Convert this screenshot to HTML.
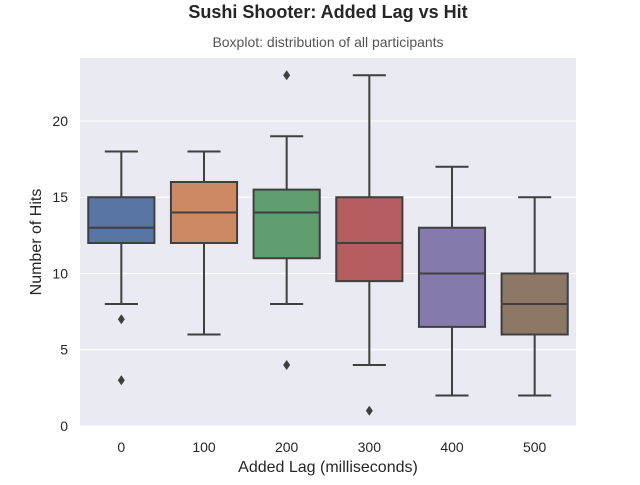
<!DOCTYPE html>
<html><head><meta charset="utf-8"><style>
body{margin:0;background:#fff;}
svg text{font-family:"Liberation Sans",Arial,sans-serif;}
</style></head><body>
<svg id="chart" width="640" height="480" xmlns="http://www.w3.org/2000/svg">
<text x="328" y="18" text-anchor="middle" font-size="18" font-weight="bold" fill="#262626">Sushi Shooter: Added Lag vs Hit</text>
<text x="328" y="47" text-anchor="middle" font-size="14" fill="#555">Boxplot: distribution of all participants</text>
<rect x="80" y="58" width="496" height="368" fill="#eaeaf2"/>
<g id="grid"></g><g id="boxes"></g><g id="ticks"></g>
<text x="328" y="472" text-anchor="middle" font-size="16" fill="#262626">Added Lag (milliseconds)</text>
<text transform="translate(41,242) rotate(-90)" text-anchor="middle" font-size="16" fill="#262626">Number of Hits</text>
</svg>
<script>
const categories=["0","100","200","300","400","500"];
const whiskerLow=[8,6,8,4,2,2];
const q1=[12,12,11,9.5,6.5,6];
const median=[13,14,14,12,10,8];
const q3=[15,16,15.5,15,13,10];
const whiskerHigh=[18,18,19,23,17,15];
const outliers=[[7,3],[],[23,4],[1],[],[]];
const yTicks=[0,5,10,15,20];
const colors=["#5975a4","#cc8963","#5f9e6e","#b55d60","#857aab","#8d7866"];
const NS="http://www.w3.org/2000/svg";
const X0=80,X1=576,Y0=426,Y1=58,yMax=24.13;
const step=(X1-X0)/categories.length;
const xs=i=>X0+step*(i+0.5);
const ys=v=>Y0-(v/yMax)*(Y0-Y1);
function mk(p,t,a){const e=document.createElementNS(NS,t);for(const k in a)e.setAttribute(k,a[k]);p.appendChild(e);return e;}
const grid=document.getElementById('grid'),boxes=document.getElementById('boxes'),ticks=document.getElementById('ticks');
yTicks.forEach(v=>{
 const l=mk(grid,'line',{x1:X0,x2:X1,y1:ys(v),y2:ys(v),stroke:'#fff','stroke-width':1});
 
 
 const t=mk(ticks,'text',{x:X0-12,y:ys(v)+5,'text-anchor':'end','font-size':14,fill:'#262626'});
 t.textContent=v;
 
 
});
const bw=step*0.8,lc='#3f3f3f';
categories.forEach((c,i)=>{
 const x=xs(i);
 const g=mk(boxes,'g',{});
 
 
 mk(g,'line',{x1:x,x2:x,y1:ys(whiskerLow[i]),y2:ys(q1[i]),stroke:lc,'stroke-width':2});
 mk(g,'line',{x1:x,x2:x,y1:ys(q3[i]),y2:ys(whiskerHigh[i]),stroke:lc,'stroke-width':2});
 mk(g,'line',{x1:x-bw/4,x2:x+bw/4,y1:ys(whiskerLow[i]),y2:ys(whiskerLow[i]),stroke:lc,'stroke-width':2});
 mk(g,'line',{x1:x-bw/4,x2:x+bw/4,y1:ys(whiskerHigh[i]),y2:ys(whiskerHigh[i]),stroke:lc,'stroke-width':2});
 mk(g,'rect',{x:x-bw/2,y:ys(q3[i]),width:bw,height:ys(q1[i])-ys(q3[i]),fill:colors[i],stroke:lc,'stroke-width':2});
 mk(g,'line',{x1:x-bw/2,x2:x+bw/2,y1:ys(median[i]),y2:ys(median[i]),stroke:lc,'stroke-width':2});
 outliers[i].forEach(o=>{
  const y=ys(o);
  const d=mk(g,'polygon',{points:`${x},${y-5} ${x+3.5},${y} ${x},${y+5} ${x-3.5},${y}`,fill:lc});
  
  
 });
 const t=mk(ticks,'text',{x:x,y:Y0+26,'text-anchor':'middle','font-size':14,fill:'#262626'});
 t.textContent=c;
 
 
});
</script>
</body></html>
